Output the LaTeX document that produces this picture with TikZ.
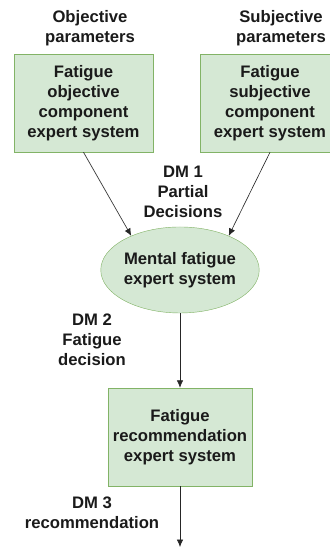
\documentclass[tikz,border=0pt]{standalone}
\usepackage{fontspec}
\setmainfont{Liberation Sans}
\usetikzlibrary{shapes.geometric,arrows.meta}
\definecolor{boxfill}{HTML}{D5E8D4}
\definecolor{boxline}{HTML}{82B366}
\definecolor{txt}{HTML}{1A1A1A}
\tikzset{
  every node/.style={font=\fontsize{15.8}{19}\selectfont\bfseries, text=txt, align=center},
  esbox/.style={draw=boxline, fill=boxfill, minimum height=3.267cm, inner sep=2pt},
  esell/.style={ellipse, draw=boxline, fill=boxfill, minimum width=4.333cm, minimum height=2.867cm, inner sep=0pt},
  flow/.style={-{Latex[length=7pt,width=6pt]}, line width=0.6pt, black!85}
}
\begin{document}
\begin{tikzpicture}
            % 画布大小
            \useasboundingbox (0,0) rectangle (10.967,18.267);

            % 输入参数
            \node (objpar) at (3.0, 17.333) {Objective\\parameters};
            \node (subjpar) at (9.367, 17.333) {Subjective\\parameters};

            % 两个分量专家系统
            \node[esbox, minimum width=4.633cm] (objes) at (2.783, 14.833) {Fatigue\\objective\\component\\expert system};
            \node[esbox, minimum width=4.667cm] (subjes) at (9.0, 14.833) {Fatigue\\subjective\\component\\expert system};

            % 心理疲劳专家系统
            \node[esell] (mental) at (6.0, 9.267) {Mental fatigue\\expert system};

            % 建议专家系统
            \node[esbox, minimum width=4.8cm] (recom) at (6.0, 3.7) {Fatigue\\recommendation\\expert system};
            \coordinate (out) at (6.0, 0.033);

            % 决策标签
            \node (dm1) at (6.1, 11.867) {DM 1\\Partial\\Decisions};
            \node (dm2) at (3.067, 6.933) {DM 2\\Fatigue\\decision};
            \node (dm3) at (3.067, 1.183) {DM 3\\recommendation};

            % 箭头
            \draw[flow] (objes.south) -- (mental.145);
            \draw[flow] (subjes.south) -- (mental.35);
            \draw[flow] (mental.south) -- (recom.north);
            \draw[flow] (recom.south) -- (out);
        \end{tikzpicture}
\end{document}
